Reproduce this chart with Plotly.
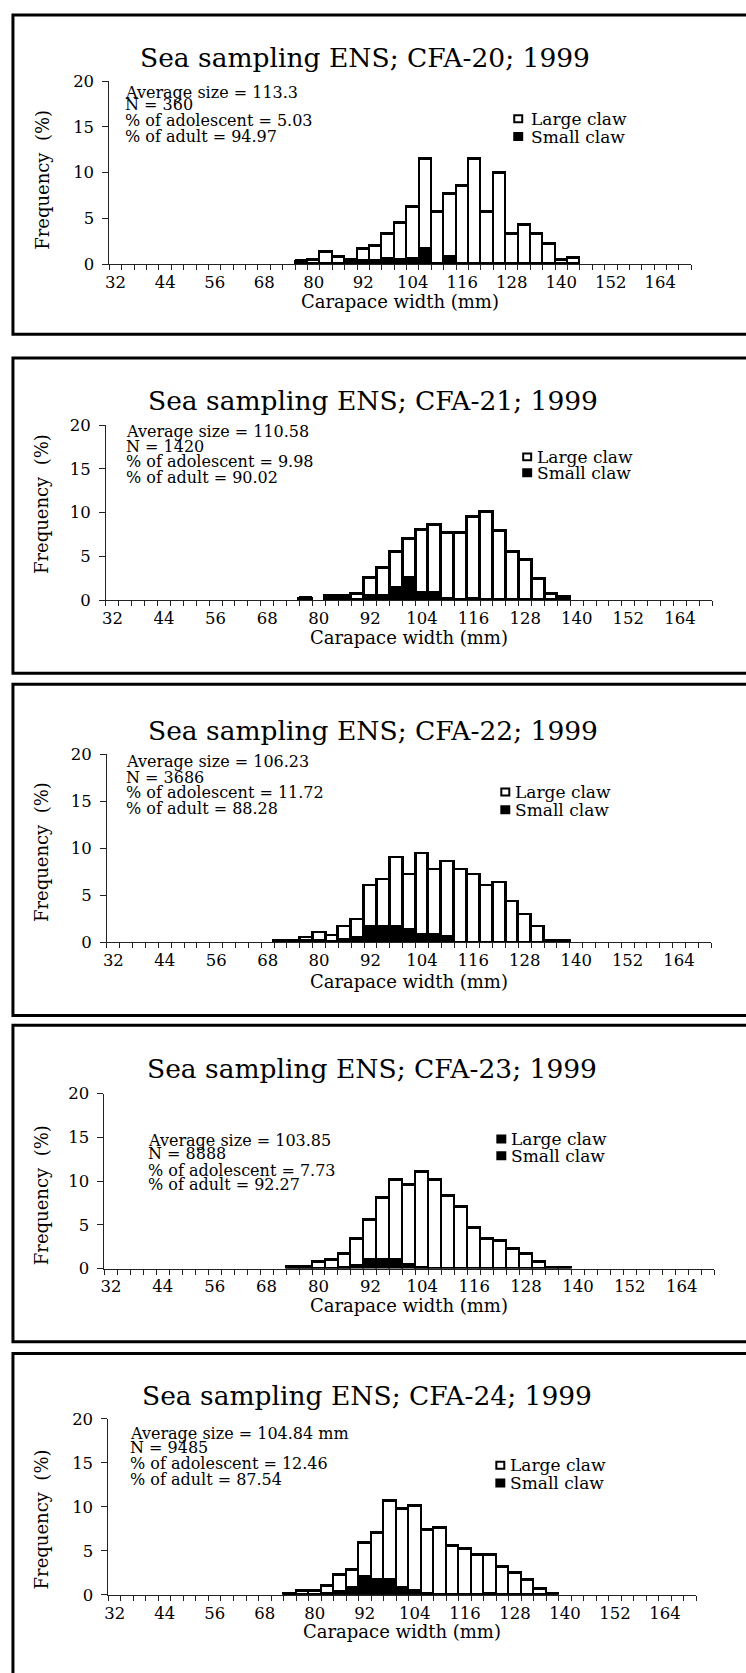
import plotly.graph_objects as go

W, H = 746, 1673
FONT = "DejaVu Serif"

tick_labels = [32, 44, 56, 68, 80, 92, 104, 116, 128, 140, 152, 164]

# ---------------- data (frequency %) ----------------
cfa20_x = [77, 80, 83, 86, 89, 92, 95, 98, 101, 104, 107, 110, 113, 116, 119, 122, 125, 128, 131, 134, 137, 140, 143]
cfa20_large = [0.0, 0.43, 1.26, 0.72, 0.33, 1.29, 1.65, 2.8, 4.07, 5.77, 9.82, 5.66, 6.84, 8.5, 11.42, 5.66, 9.95, 3.24, 4.2, 3.24, 2.16, 0.43, 0.6]
cfa20_small = [0.36, 0.0, 0.0, 0.0, 0.1, 0.3, 0.3, 0.5, 0.4, 0.5, 1.6, 0.0, 0.8, 0.0, 0.0, 0.0, 0.0, 0.0, 0.0, 0.0, 0.0, 0.0, 0.0]

cfa21_x = [77, 83, 86, 89, 92, 95, 98, 101, 104, 107, 110, 113, 116, 119, 122, 125, 128, 131, 134, 137]
cfa21_large = [0.0, 0.32, 0.32, 0.72, 2.08, 3.28, 4.1, 4.45, 7.22, 7.82, 7.55, 7.65, 9.4, 10.05, 7.85, 5.45, 4.55, 2.45, 0.67, 0.3]
cfa21_small = [0.2, 0.1, 0.1, 0.0, 0.42, 0.42, 1.4, 2.55, 0.78, 0.78, 0.1, 0.0, 0.1, 0.0, 0.0, 0.0, 0.0, 0.0, 0.0, 0.0]

cfa22_x = [71, 74, 77, 80, 83, 86, 89, 92, 95, 98, 101, 104, 107, 110, 113, 116, 119, 122, 125, 128, 131, 134, 137]
cfa22_large = [0.22, 0.22, 0.33, 0.83, 0.62, 1.3, 1.97, 4.42, 5.0, 7.3, 5.85, 8.62, 6.87, 8.0, 7.75, 7.2, 6.05, 6.4, 4.4, 3.0, 1.65, 0.2, 0.2]
cfa22_small = [0.0, 0.0, 0.15, 0.2, 0.1, 0.35, 0.5, 1.68, 1.68, 1.7, 1.35, 0.85, 0.85, 0.6, 0.0, 0.0, 0.0, 0.0, 0.0, 0.0, 0.0, 0.0, 0.0]

cfa23_x = [74, 77, 80, 83, 86, 89, 92, 95, 98, 101, 104, 107, 110, 113, 116, 119, 122, 125, 128, 131, 134, 137]
cfa23_large = [0.2, 0.2, 0.8, 1.03, 1.6, 3.1, 4.6, 7.03, 9.15, 9.05, 10.96, 10.16, 8.3, 7.12, 4.72, 3.45, 3.15, 2.27, 1.7, 0.75, 0.1, 0.1]
cfa23_small = [0.0, 0.0, 0.0, 0.0, 0.1, 0.35, 1.05, 1.05, 1.05, 0.5, 0.1, 0.0, 0.0, 0.0, 0.0, 0.0, 0.0, 0.0, 0.0, 0.0, 0.0, 0.0]

cfa24_x = [74, 77, 80, 83, 86, 89, 92, 95, 98, 101, 104, 107, 110, 113, 116, 119, 122, 125, 128, 131, 134, 137]
cfa24_large = [0.0, 0.45, 0.4, 0.95, 1.95, 2.03, 3.9, 5.35, 8.93, 9.02, 9.6, 7.3, 7.66, 5.55, 5.2, 4.6, 4.5, 3.15, 2.5, 1.65, 0.7, 0.1]
cfa24_small = [0.12, 0.0, 0.0, 0.1, 0.3, 0.82, 2.0, 1.75, 1.75, 0.8, 0.5, 0.1, 0.0, 0.0, 0.0, 0.0, 0.1, 0.0, 0.0, 0.0, 0.0, 0.0]

titles = ["Sea sampling ENS; CFA-20; 1999", "Sea sampling ENS; CFA-21; 1999",
          "Sea sampling ENS; CFA-22; 1999", "Sea sampling ENS; CFA-23; 1999",
          "Sea sampling ENS; CFA-24; 1999"]
stats = [
    ["Average size = 113.3", "N = 360", "% of adolescent = 5.03", "% of adult = 94.97"],
    ["Average size = 110.58", "N = 1420", "% of adolescent = 9.98", "% of adult = 90.02"],
    ["Average size = 106.23", "N = 3686", "% of adolescent = 11.72", "% of adult = 88.28"],
    ["Average size = 103.85", "N = 8888", "% of adolescent = 7.73", "% of adult = 92.27"],
    ["Average size = 104.84 mm", "N = 9485", "% of adolescent = 12.46", "% of adult = 87.54"],
]
series_names = ["Large claw", "Small claw"]

data = [(cfa20_x, cfa20_large, cfa20_small), (cfa21_x, cfa21_large, cfa21_small),
        (cfa22_x, cfa22_large, cfa22_small), (cfa23_x, cfa23_large, cfa23_small),
        (cfa24_x, cfa24_large, cfa24_small)]

# ---------------- layout geometry (pixels) ----------------
panels = [
    dict(ax=(106, 691), y0=258, y20=73, frame=(6, 329), title=(363, 49),
         stats_x=120, stats_y=[84, 97, 113, 129], leg=(512, 528, 111, 129), xt=296, yt=173,
         leg_large_black=False),
    dict(ax=(102.5, 712), y0=598, y20=421, frame=(353, 672), title=(371, 396),
         stats_x=121, stats_y=[427, 443, 458, 474], leg=(521, 534, 453, 469), xt=636, yt=501,
         leg_large_black=False),
    dict(ax=(103.5, 711), y0=944, y20=754, frame=(683, 1018), title=(371, 730),
         stats_x=121, stats_y=[761, 777, 793, 809], leg=(499, 512, 792, 810), xt=984, yt=853,
         leg_large_black=False),
    dict(ax=(101, 714), y0=1274, y20=1097, frame=(1028, 1348), title=(370, 1072),
         stats_x=143, stats_y=[1145, 1158, 1175, 1189], leg=(495, 508, 1143, 1160), xt=1311, yt=1200,
         leg_large_black=True),
    dict(ax=(105, 696), y0=1604, y20=1426, frame=(1360, 1700), title=(365, 1402),
         stats_x=125, stats_y=[1441, 1455, 1471, 1487], leg=(494, 507, 1473, 1491), xt=1641, yt=1528,
         leg_large_black=False),
]


def px(x):
    return x / W


def py(y):
    return 1 - y / H


fig = go.Figure()
layout = dict(width=W, height=H, margin=dict(l=0, r=0, t=0, b=0),
              paper_bgcolor="white", plot_bgcolor="rgba(0,0,0,0)",
              barmode="stack", bargap=0, showlegend=False,
              font=dict(family=FONT, color="black"))
annotations = []
shapes = []

for i, (p, (xs, large, small)) in enumerate(zip(panels, data)):
    k = "" if i == 0 else str(i + 1)
    xa, ya = "x" + k, "y" + k
    fig.add_trace(go.Bar(x=xs, y=small, name=series_names[1], width=3, xaxis=xa, yaxis=ya,
                         marker=dict(color="black", line=dict(color="black", width=2.5))))
    fig.add_trace(go.Bar(x=xs, y=large, name=series_names[0], width=3, xaxis=xa, yaxis=ya,
                         marker=dict(color="white", line=dict(color="black", width=2.8))))
    layout["xaxis" + k] = dict(
        domain=[px(p["ax"][0]), px(p["ax"][1])], anchor=ya, range=[30.5, 171.5],
        tickmode="array", tickvals=tick_labels, ticktext=[str(t) for t in tick_labels],
        ticks="", showline=True, linecolor="#222", linewidth=1, showgrid=False, zeroline=False,
        tickfont=dict(family=FONT, size=16.5, color="black"), ticklabelstandoff=3,
        minor=dict(tick0=30.5, dtick=3, ticks="outside", ticklen=5, tickcolor="#222",
                   tickwidth=1, showgrid=False),
        fixedrange=True)
    layout["yaxis" + k] = dict(
        domain=[py(p["y0"]), py(p["y20"])], anchor=xa, range=[0, 20],
        tickmode="array", tickvals=[0, 5, 10, 15, 20], ticks="outside", ticklen=6,
        tickcolor="#222", showline=True, linecolor="#222", linewidth=1, showgrid=False,
        zeroline=False, tickfont=dict(family=FONT, size=16.5, color="black"),
        ticklabelstandoff=5, fixedrange=True)

    # frame
    shapes.append(dict(type="rect", xref="paper", yref="paper", x0=px(9), x1=px(760),
                       y0=py(p["frame"][1]), y1=py(p["frame"][0]),
                       line=dict(color="black", width=3), fillcolor="rgba(0,0,0,0)", layer="below"))
    # title
    annotations.append(dict(text=titles[i], x=px(p["title"][0]), y=py(p["title"][1]),
                            xref="paper", yref="paper", xanchor="center", yanchor="middle",
                            showarrow=False, font=dict(family=FONT, size=26.5, color="black")))
    # stats
    for line, yy in zip(stats[i], p["stats_y"]):
        annotations.append(dict(text=line, x=px(p["stats_x"]), y=py(yy), xref="paper", yref="paper",
                                xanchor="left", yanchor="middle", showarrow=False,
                                font=dict(family=FONT, size=16, color="black")))
    # legend
    mx, tx, yl, ys = p["leg"]
    for name, yy, filled in [(series_names[0], yl, p["leg_large_black"]), (series_names[1], ys, True)]:
        shapes.append(dict(type="rect", xref="paper", yref="paper",
                           x0=px(mx + 1), x1=px(mx + 9), y0=py(yy + 3.5), y1=py(yy - 3.5),
                           line=dict(color="black", width=2),
                           fillcolor="black" if filled else "white"))
        annotations.append(dict(text=name, x=px(tx), y=py(yy), xref="paper", yref="paper",
                                xanchor="left", yanchor="middle", showarrow=False,
                                font=dict(family=FONT, size=17, color="black")))
    # axis titles
    annotations.append(dict(text="Carapace width (mm)", x=px((p["ax"][0] + p["ax"][1]) / 2),
                            y=py(p["xt"]), xref="paper", yref="paper", xanchor="center",
                            yanchor="middle", showarrow=False,
                            font=dict(family=FONT, size=18, color="black")))
    annotations.append(dict(text="Frequency  (%)", x=px(38), y=py(p["yt"]), xref="paper",
                            yref="paper", xanchor="center", yanchor="middle", textangle=-90,
                            showarrow=False, font=dict(family=FONT, size=18, color="black")))

layout["annotations"] = annotations
layout["shapes"] = shapes
fig.update_layout(**layout)
fig.write_html("out.html", config={"displayModeBar": False})
